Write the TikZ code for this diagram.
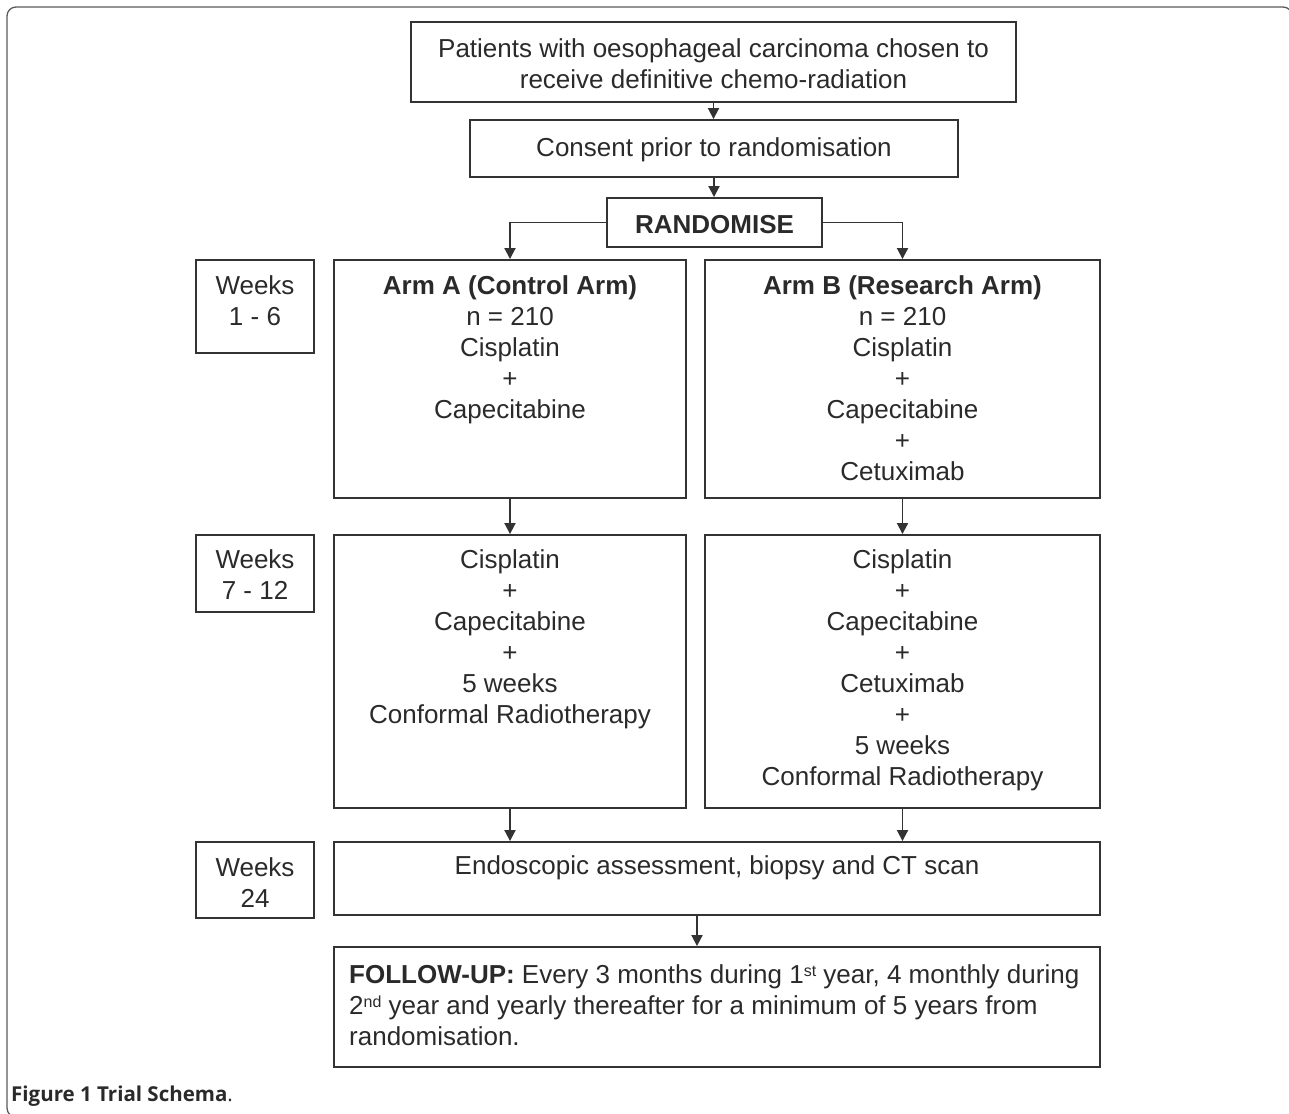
\documentclass[tikz,border=0pt]{standalone}
\usepackage{fontspec}
\setmainfont{Liberation Sans}
\newfontfamily\capfont{Open Sans}
\usetikzlibrary{arrows.meta,calc}
\definecolor{linec}{HTML}{333333}
\definecolor{textc}{HTML}{2A2A2A}
\definecolor{framec}{HTML}{5A5A5A}
\tikzset{
  boxst/.style={draw=linec, line width=1.9pt, inner sep=0pt, rectangle},
  txt/.style={font=\fontsize{26}{31}\selectfont, align=center, inner sep=0pt, anchor=north, text=textc},
  arr/.style={draw=linec, line width=1.9pt, -{Triangle[length=11pt,width=11pt]}},
}
\begin{document}
\begin{tikzpicture}[x=1pt,y=-1pt]
\useasboundingbox (0,0) rectangle (1289,1113);
\begin{scope}
\clip (0,0) rectangle (1289,1113);
\draw[draw=framec, line width=1.3pt, rounded corners=9pt] (7,7) rectangle (1292,1117);
\end{scope}

% boxes
\node[boxst, minimum width=605pt, minimum height=80pt] (top) at (713.5,62) {};
\node[boxst, minimum width=488pt, minimum height=57pt] (cons) at (714,148.5) {};
\node[boxst, minimum width=215pt, minimum height=49pt] (rand) at (714.5,222.5) {};
\node[boxst, minimum width=118pt, minimum height=93pt] (w1) at (255,306.5) {};
\node[boxst, minimum width=352pt, minimum height=238pt] (A1) at (510,379) {};
\node[boxst, minimum width=395pt, minimum height=238pt] (B1) at (902.5,379) {};
\node[boxst, minimum width=118pt, minimum height=77pt] (w2) at (255,573.5) {};
\node[boxst, minimum width=352pt, minimum height=273pt] (A2) at (510,671.5) {};
\node[boxst, minimum width=395pt, minimum height=273pt] (B2) at (902.5,671.5) {};
\node[boxst, minimum width=118pt, minimum height=76pt] (w3) at (255,880) {};
\node[boxst, minimum width=766pt, minimum height=73pt] (endo) at (717,878.5) {};
\node[boxst, minimum width=766pt, minimum height=120pt] (fol) at (717,1007) {};

% texts
\node[txt] (ttop) at (713.5,35.6) {\strut Patients with oesophageal carcinoma chosen to\\ receive definitive chemo-radiation};
\node[txt] (tcons) at (714,134.6) {\strut Consent prior to randomisation};
\node[txt] (trand) at (714.5,211.6) {\strut\bfseries RANDOMISE};
\node[txt] (tw1) at (255,272.6) {\strut Weeks\\ 1 - 6};
\node[txt] (tA1) at (510,272.6) {\strut\textbf{Arm A (Control Arm)}\\ n = 210\\ Cisplatin\\ +\\ Capecitabine};
\node[txt] (tB1) at (902.5,272.6) {\strut\textbf{Arm B (Research Arm)}\\ n = 210\\ Cisplatin\\ +\\ Capecitabine\\ +\\ Cetuximab};
\node[txt] (tw2) at (255,546.6) {\strut Weeks\\ 7 - 12};
\node[txt] (tA2) at (510,546.6) {\strut Cisplatin\\ +\\ Capecitabine\\ +\\ 5 weeks\\ Conformal Radiotherapy};
\node[txt] (tB2) at (902.5,546.6) {\strut Cisplatin\\ +\\ Capecitabine\\ +\\ Cetuximab\\ +\\ 5 weeks\\ Conformal Radiotherapy};
\node[txt] (tw3) at (255,854.6) {\strut Weeks\\ 24};
\node[txt] (tendo) at (717,852.6) {\strut Endoscopic assessment, biopsy and CT scan};
\node[txt, anchor=north west, align=left] (tfol) at (349,961.6) {\strut\textbf{FOLLOW-UP:} Every 3 months during 1\raisebox{0.5ex}{\fontsize{16}{16}\selectfont st} year, 4 monthly during\\ 2\raisebox{0.5ex}{\fontsize{16}{16}\selectfont nd} year and yearly thereafter for a minimum of 5 years from\\ randomisation.};

\node[anchor=base west, inner sep=0pt, text=textc, font=\capfont\fontsize{20.5}{24}\selectfont] (cap) at (11,1101) {\textbf{Figure 1 Trial Schema}.};

% connectors
\draw[arr] (top.south) -- (top.south |- cons.north);
\draw[arr] (cons.south) -- (cons.south |- rand.north);
\draw[arr] (rand.west) -| (A1.north);
\draw[arr] (rand.east) -| (B1.north);
\draw[arr] (A1.south) -- (A2.north);
\draw[arr] (B1.south) -- (B2.north);
\draw[arr] (A2.south) -- (A2.south |- endo.north);
\draw[arr] (B2.south) -- (B2.south |- endo.north);
\path (endo.south) ++(-20,0) coordinate (ea);
\draw[arr] (ea) -- (ea |- fol.north);
\end{tikzpicture}
\end{document}
